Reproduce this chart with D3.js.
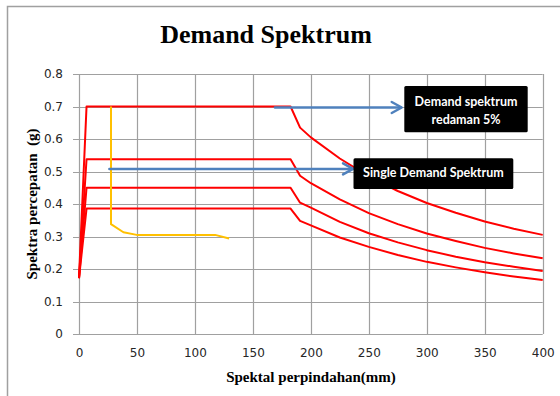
<!DOCTYPE html>
<html>
<head>
<meta charset="utf-8">
<script src="https://cdn.jsdelivr.net/npm/d3@7"></script>
<style>
  html, body { margin: 0; padding: 0; background: #fff; }
  svg { display: block; }
</style>
</head>
<body>
<svg id="chart" width="560" height="396"></svg>
<script>
// Spectral displacement (mm) sampled along the demand curves
const sdPoints = [0, 6.5, 182.5, 190.7, 200, 225, 250, 275, 300, 325, 350, 375, 400];

// Demand spectra, 5% damping (spectral acceleration, g)
const demand1 = [0.172, 0.700, 0.700, 0.635, 0.605, 0.540, 0.485, 0.440, 0.403, 0.373, 0.346, 0.324, 0.305];
const demand2 = [0.172, 0.538, 0.538, 0.487, 0.464, 0.414, 0.372, 0.338, 0.309, 0.286, 0.265, 0.248, 0.233];
const demand3 = [0.172, 0.450, 0.450, 0.404, 0.389, 0.345, 0.310, 0.282, 0.258, 0.238, 0.221, 0.207, 0.194];
const demand4 = [0.172, 0.386, 0.386, 0.348, 0.334, 0.297, 0.268, 0.243, 0.222, 0.205, 0.190, 0.177, 0.166];
const demandSeries = [demand1, demand2, demand3, demand4];

// Single demand spectrum
const singleSd = [27.6, 27.6, 38.3, 49.8, 117.4, 129.5];
const singleSa = [0.700, 0.338, 0.313, 0.305, 0.305, 0.294];

// Axis ticks
const xTicks = [0, 50, 100, 150, 200, 250, 300, 350, 400];
const yTicks = [0, 0.1, 0.2, 0.3, 0.4, 0.5, 0.6, 0.7, 0.8];

// Callout arrows: [x1, y1, x2, y2] in data units
const arrowDemand = [169, 0.697, 278.4, 0.697];
const arrowSingle = [26.2, 0.508, 236.4, 0.508];

const svg = d3.select("#chart");

const x = d3.scaleLinear().domain([0, 400]).range([79, 542.7]);
const y = d3.scaleLinear().domain([0, 0.8]).range([334, 74]);

// chart frame
svg.append("path")
  .attr("d", "M7.5,400 V6.5 H560")
  .attr("fill", "none")
  .attr("stroke", "#a0a0a0")
  .attr("stroke-width", 1.5);

// title
svg.append("text")
  .attr("x", 266).attr("y", 43)
  .attr("text-anchor", "middle")
  .attr("font-family", "'Liberation Serif', 'Times New Roman', serif")
  .attr("font-weight", "bold")
  .attr("font-size", 26)
  .attr("fill", "#000")
  .text("Demand Spektrum");

// gridlines
const grid = svg.append("g").attr("stroke", "#a0a0a0").attr("stroke-width", 1.2);
grid.selectAll("line.h").data(yTicks).join("line")
  .attr("x1", x(0) - 6).attr("x2", x(400))
  .attr("y1", d => Math.round(y(d)) + 0.5).attr("y2", d => Math.round(y(d)) + 0.5);
grid.selectAll("line.v").data(xTicks).join("line")
  .attr("y1", y(0.8)).attr("y2", y(0))
  .attr("x1", d => Math.round(x(d)) + 0.5).attr("x2", d => Math.round(x(d)) + 0.5);

// axes (labels only; lines are drawn by the grid)
const xAxis = d3.axisBottom(x).tickValues(xTicks).tickSize(0).tickPadding(0).tickFormat(d3.format("d"));
const yAxis = d3.axisLeft(y).tickValues(yTicks).tickSize(0).tickPadding(0).tickFormat(d => d === 0 ? "0" : d3.format(".1f")(d));

const gx = svg.append("g").attr("transform", "translate(0,348)").call(xAxis);
const gy = svg.append("g").attr("transform", "translate(63,0)").call(yAxis);
[gx, gy].forEach(g => {
  g.select(".domain").remove();
  g.selectAll("text")
    .attr("font-family", "'DejaVu Sans', Verdana, sans-serif")
    .attr("font-size", 12)
    .attr("fill", "#262626");
});

// axis titles
svg.append("text")
  .attr("x", 311).attr("y", 382)
  .attr("text-anchor", "middle")
  .attr("font-family", "'Liberation Serif', 'Times New Roman', serif")
  .attr("font-weight", "bold")
  .attr("font-size", 15)
  .text("Spektal perpindahan(mm)");

svg.append("text")
  .attr("transform", "translate(37,204) rotate(-90)")
  .attr("text-anchor", "middle")
  .attr("font-family", "'Liberation Serif', 'Times New Roman', serif")
  .attr("font-weight", "bold")
  .attr("font-size", 15)
  .attr("xml:space", "preserve")
  .style("white-space", "pre")
  .text("Spektra percepatan  (g)");

// demand curves
const line = d3.line().x(d => x(d[0])).y(d => y(d[1]));
svg.append("g").selectAll("path").data(demandSeries).join("path")
  .attr("d", s => line(sdPoints.map((v, i) => [v, s[i]])))
  .attr("fill", "none")
  .attr("stroke", "#ff0000")
  .attr("stroke-width", 2)
  .attr("stroke-linejoin", "round");

// single demand spectrum
svg.append("path")
  .attr("d", line(singleSd.map((v, i) => [v, singleSa[i]])))
  .attr("fill", "none")
  .attr("stroke", "#ffc000")
  .attr("stroke-width", 2)
  .attr("stroke-linejoin", "round");

// callout arrows
function arrow(a) {
  const x1 = x(a[0]), y1 = y(a[1]), x2 = x(a[2]), y2 = y(a[3]);
  const g = svg.append("g")
    .attr("stroke", "#4f81bd")
    .attr("stroke-width", 2.5)
    .attr("fill", "none")
    .attr("stroke-linecap", "round")
    .attr("stroke-linejoin", "round");
  g.append("line").attr("x1", x1).attr("y1", y1).attr("x2", x2 - 1).attr("y2", y2);
  g.append("path").attr("d", `M${x2 - 10},${y2 - 5.5} L${x2},${y2} L${x2 - 10},${y2 + 5.5}`);
}
arrow(arrowDemand);
arrow(arrowSingle);

// callout boxes
function callout(x0, y0, w, h, lines, lineY) {
  svg.append("rect")
    .attr("x", x0).attr("y", y0).attr("width", w).attr("height", h)
    .attr("rx", 1.5)
    .attr("fill", "#000");
  lines.forEach((t, i) => {
    svg.append("text")
      .attr("x", x0 + w / 2).attr("y", lineY[i])
      .attr("text-anchor", "middle")
      .attr("dominant-baseline", "central")
      .attr("font-family", "Lato, 'Open Sans', sans-serif")
      .attr("font-weight", "bold")
      .attr("font-size", 12.5)
      .attr("fill", "#fff")
      .text(t);
  });
}
callout(404.3, 86, 123.4, 46.3, ["Demand spektrum", "redaman 5%"], [101.5, 119]);
callout(353.5, 158.3, 159.8, 30.7, ["Single Demand Spektrum"], [172]);
</script>
</body>
</html>
